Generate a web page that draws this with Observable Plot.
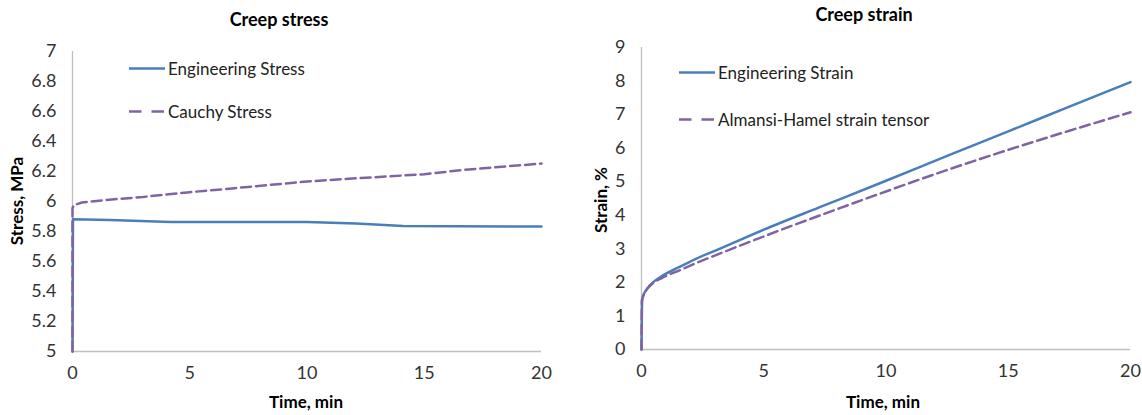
<!DOCTYPE html>
<html>
<head>
<meta charset="utf-8">
<script src="https://cdn.jsdelivr.net/npm/d3@7"></script>
<script src="https://cdn.jsdelivr.net/npm/@observablehq/plot@0.6"></script>
<style>
  body { margin: 0; background: #fff; }
  #wrap { position: relative; width: 1142px; height: 415px; overflow: hidden; font-family: Lato, "Open Sans", sans-serif; }
  .panel { position: absolute; top: 0; width: 571px; height: 415px; }
  .txt { position: absolute; white-space: nowrap; transform: translate(-50%, -50%); color: #000; }
  .title { font-weight: bold; font-size: 18px; }
  .axlab { font-weight: bold; font-size: 17px; }
  .rot { transform: translate(-50%, -50%) rotate(-90deg); }
  .leg { position: absolute; display: flex; align-items: center; font-size: 17px; color: #222; transform: translateY(-50%); white-space: nowrap; }
  .leg svg { margin-right: 3px; }
</style>
</head>
<body>
<div id="wrap"></div>
<script>
// Creep stress (MPa) against time (min)
const stressTime     = [0, 0.02, 1.6, 4.2, 10, 12.1, 14.1, 20];
const engStress      = [5.0, 5.882, 5.876, 5.864, 5.864, 5.853, 5.836, 5.833];
const cauchyTime     = [0, 0, 0.05, 0.4, 1.4, 3, 5, 6.8, 10, 11.5, 15, 16.7, 20];
const cauchyStress   = [5.0, 5.955, 5.975, 5.993, 6.01, 6.03, 6.062, 6.087, 6.133, 6.149, 6.182, 6.211, 6.253];

// Creep strain (%) against time (min)
const strainTime     = [0, 0.02, 0.08, 0.18, 0.34, 0.88, 1.56, 2.25, 3.07, 5, 7.5, 10, 12.5, 15, 17.5, 20];
const engStrain      = [0, 1.46, 1.62, 1.76, 1.91, 2.21, 2.46, 2.71, 2.96, 3.57, 4.3, 5.03, 5.77, 6.5, 7.24, 7.97];
const almansiStrain  = [0, 1.46, 1.61, 1.75, 1.89, 2.15, 2.36, 2.58, 2.82, 3.37, 4.05, 4.71, 5.35, 5.95, 6.52, 7.07];

// Axis ticks
const timeTicks      = [0, 5, 10, 15, 20];
const stressTicks    = [5, 5.2, 5.4, 5.6, 5.8, 6, 6.2, 6.4, 6.6, 6.8, 7];
const stressLabels   = ["5", "5.2", "5.4", "5.6", "5.8", "6", "6.2", "6.4", "6.6", "6.8", "7"];
const strainTicks    = [0, 1, 2, 3, 4, 5, 6, 7, 8, 9];
const strainLabels   = ["0", "1", "2", "3", "4", "5", "6", "7", "8", "9"];

const BLUE = "#4a7ebb", PURPLE = "#8064a2", AXIS = "#bfbfbf";
const DASH = "10,5";

const rows = (xs, ys) => xs.map((t, i) => ({t, v: ys[i]}));

function panel({left, margins, yDomain, yTicks, yLabels, solid, dashed, curve}) {
  const div = document.createElement("div");
  div.className = "panel";
  div.style.left = left + "px";
  const chart = Plot.plot({
    width: 571,
    height: 415,
    ...margins,
    style: {fontFamily: "Lato, 'Open Sans', sans-serif", fontSize: "18px", color: "#333", background: "transparent", overflow: "visible"},
    x: {domain: [0, 20], label: null},
    y: {domain: yDomain, label: null},
    marks: [
      Plot.ruleX([0], {stroke: AXIS, strokeWidth: 1.3}),
      Plot.ruleY([yDomain[0]], {stroke: AXIS, strokeWidth: 1.3}),
      Plot.axisX({ticks: timeTicks, tickSize: 0, tickPadding: 15, label: null}),
      Plot.axisY({ticks: yTicks, tickSize: 0, tickPadding: 16, label: null,
                  tickFormat: d => yLabels[yTicks.indexOf(d)]}),
      Plot.line(solid, {x: "t", y: "v", stroke: BLUE, strokeWidth: 2.5, curve}),
      Plot.line(dashed, {x: "t", y: "v", stroke: PURPLE, strokeWidth: 2.5, strokeDasharray: DASH, curve})
    ]
  });
  div.appendChild(chart);
  return div;
}

function text(cls, x, y, s) {
  const d = document.createElement("div");
  d.className = "txt " + cls;
  d.style.left = x + "px";
  d.style.top = y + "px";
  d.textContent = s;
  return d;
}

function legendItem(x, y, label, dashed) {
  const d = document.createElement("div");
  d.className = "leg";
  d.style.left = x + "px";
  d.style.top = y + "px";
  const svg = d3.create("svg").attr("width", 36).attr("height", 6);
  svg.append("line").attr("x1", 0).attr("x2", 36).attr("y1", 3).attr("y2", 3)
    .attr("stroke", dashed ? PURPLE : BLUE).attr("stroke-width", 2.5)
    .attr("stroke-dasharray", dashed ? "12.5,10" : null);
  d.appendChild(svg.node());
  d.appendChild(document.createTextNode(label));
  return d;
}

const wrap = document.getElementById("wrap");

wrap.appendChild(panel({
  left: 0,
  margins: {marginLeft: 72, marginRight: 30, marginTop: 51, marginBottom: 64},
  yDomain: [5, 7], yTicks: stressTicks, yLabels: stressLabels,
  solid: rows(stressTime, engStress),
  dashed: rows(cauchyTime, cauchyStress),
  curve: "linear"
}));

wrap.appendChild(panel({
  left: 571,
  margins: {marginLeft: 70, marginRight: 12, marginTop: 47, marginBottom: 66},
  yDomain: [0, 9], yTicks: strainTicks, yLabels: strainLabels,
  solid: rows(strainTime, engStrain),
  dashed: rows(strainTime, almansiStrain),
  curve: "monotone-x"
}));

wrap.appendChild(text("title", 279, 19, "Creep stress"));
wrap.appendChild(text("title", 864, 14, "Creep strain"));
wrap.appendChild(text("axlab", 306, 401, "Time, min"));
wrap.appendChild(text("axlab", 883, 401, "Time, min"));
wrap.appendChild(text("axlab rot", 16, 201, "Stress, MPa"));
wrap.appendChild(text("axlab rot", 600, 200, "Strain, %"));

wrap.appendChild(legendItem(129, 68, "Engineering Stress", false));
wrap.appendChild(legendItem(129, 111, "Cauchy Stress", true));
wrap.appendChild(legendItem(679, 72, "Engineering Strain", false));
wrap.appendChild(legendItem(679, 119, "Almansi-Hamel strain tensor", true));
</script>
</body>
</html>
